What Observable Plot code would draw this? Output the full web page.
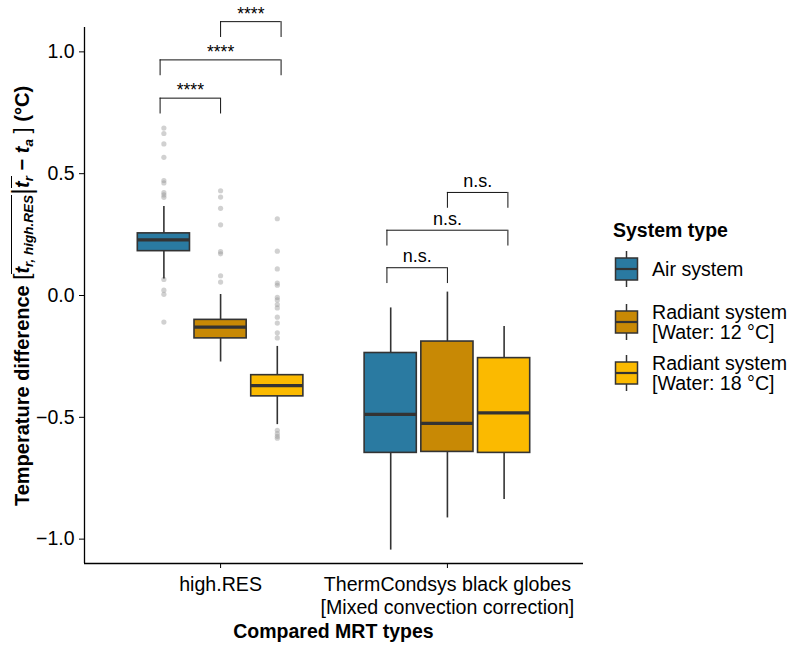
<!DOCTYPE html>
<html>
<head>
<meta charset="utf-8">
<script src="https://cdn.jsdelivr.net/npm/d3@7"></script>
<script src="https://cdn.jsdelivr.net/npm/@observablehq/plot@0.6"></script>
<style>
  body { margin: 0; background: #fff; font-family: "Liberation Sans", Arial, Helvetica, sans-serif; }
  #wrap { position: relative; width: 790px; height: 645px; overflow: hidden; background: #fff; }
  #chart { position: absolute; left: 0; top: 0; }
  .abs { position: absolute; white-space: nowrap; color: #000; }
  #xtitle { left: 84px; width: 499px; top: 620px; text-align: center; font-weight: bold; font-size: 19.5px; line-height: 22px; }
  #ytitle { width: 600px; height: 30px; line-height: 30px; left: -278px; top: 281px; transform: rotate(-90deg); text-align: center; font-weight: bold; font-size: 20px; }
  #ytitle i { font-style: italic; }
  #ytitle sub { font-size: 13.5px; vertical-align: -4px; line-height: 0; }
  #ytitle .ol { display: inline-block; border-top: 1.6px solid #000; line-height: 20px; padding-top: 0px; }
  #ytitle .bar { font-weight: normal; font-size: 27px; vertical-align: -2px; }
  #ytitle .br { font-weight: normal; font-size: 22px; }
  #legtitle { left: 613px; top: 218.5px; font-weight: bold; font-size: 19.5px; line-height: 22px; }
  .legrow { position: absolute; left: 614px; height: 40px; display: flex; align-items: center; }
  .legtext { margin-left: 13px; font-size: 19.6px; line-height: 20px; white-space: pre; }
</style>
</head>
<body>
<div id="wrap">
  <div id="chart"></div>
  <div id="ytitle" class="abs">Temperature difference <span class="br">[</span><span class="ol"><i>t</i><sub><i>r, high.RES</i></sub></span><span class="bar">|</span><span class="ol"><i>t</i><sub><i>r</i></sub></span> − <i>t</i><sub><i>a</i></sub> <span class="br">]</span> (°C)</div>
  <div id="xtitle" class="abs">Compared MRT types</div>
  <div id="legtitle" class="abs">System type</div>
  <div id="legend"></div>
</div>
<script>
// ---------- data ----------
const categories = ["high.RES", "ThermCondsys black globes\n[Mixed convection correction]"];
const systems = ["Air system", "Radiant system\n[Water: 12 °C]", "Radiant system\n[Water: 18 °C]"];
const colors = ["#2A7AA1", "#C88905", "#FBBA00"];
const yTicks = [-1.0, -0.5, 0.0, 0.5, 1.0];

// one entry per box (category index, system index)
const boxCategory = [0, 0, 0, 1, 1, 1];
const boxSystem   = [0, 1, 2, 0, 1, 2];
const whiskerLow  = [0.068, -0.273, -0.530, -1.045, -0.913, -0.837];
const quartile1   = [0.182, -0.176, -0.414, -0.646, -0.642, -0.646];
const medianVal   = [0.228, -0.130, -0.370, -0.488, -0.525, -0.482];
const quartile3   = [0.255, -0.100, -0.327, -0.236, -0.189, -0.257];
const whiskerHigh = [0.365,  0.004, -0.209, -0.051,  0.014, -0.127];

// outliers (only high.RES boxes have them)
const outliersAirHighRES = [0.687, 0.665, 0.622, 0.567, 0.472, 0.462, 0.422, 0.413, 0.403, 0.066, 0.022, 0.005, -0.109];
const outliersR12HighRES = [0.430, 0.404, 0.358, 0.290, 0.180, 0.171, 0.081, 0.055];
const outliersR18HighRES = [0.315, 0.182, 0.109, 0.051, 0.042, -0.008, -0.018, -0.037, -0.051, -0.089, -0.113, -0.153, -0.174, -0.553, -0.567, -0.578, -0.586];

// pairwise comparisons
const compCategory = [0, 0, 0, 1, 1, 1];
const compFrom     = [0, 0, 1, 0, 0, 1];
const compTo       = [1, 2, 2, 1, 2, 2];
const compY        = [0.810, 0.967, 1.124, 0.114, 0.268, 0.423];
const compLabel    = ["****", "****", "****", "n.s.", "n.s.", "n.s."];

// ---------- layout helpers ----------
const dodge = 0.25, boxHalf = 0.115, bracketDodge = 0.2667, tipLength = 0.065;
const xPos = (cat, sys) => cat + 1 + (sys - 1) * dodge;
const bPos = (cat, sys) => cat + 1 + (sys - 1) * bracketDodge;

const boxes = boxCategory.map((c, i) => ({
  cat: c, sys: boxSystem[i], lo: whiskerLow[i], q1: quartile1[i],
  med: medianVal[i], q3: quartile3[i], hi: whiskerHigh[i]
}));
const outliers = [
  ...outliersAirHighRES.map(v => ({cat: 0, sys: 0, v})),
  ...outliersR12HighRES.map(v => ({cat: 0, sys: 1, v})),
  ...outliersR18HighRES.map(v => ({cat: 0, sys: 2, v}))
];
const comps = compCategory.map((c, i) => ({
  cat: c, from: compFrom[i], to: compTo[i], y: compY[i], label: compLabel[i]
}));
const tips = comps.flatMap(c => [
  {x: bPos(c.cat, c.from), y: c.y},
  {x: bPos(c.cat, c.to), y: c.y}
]);

const chart = Plot.plot({
  width: 790, height: 645,
  marginLeft: 84, marginRight: 207, marginTop: 27, marginBottom: 82,
  style: {fontFamily: "Liberation Sans, Arial, sans-serif", fontSize: "19.5px", color: "#000", background: "transparent", overflow: "visible"},
  x: {domain: [0.4, 2.6]},
  y: {domain: [-1.1, 1.1]},
  color: {domain: systems, range: colors},
  marks: [
    Plot.dot(outliers, {x: d => xPos(d.cat, d.sys), y: "v", r: 2.6, fill: "#9a9a9a", fillOpacity: 0.45, stroke: "none"}),
    Plot.ruleX(boxes, {x: d => xPos(d.cat, d.sys), y1: "lo", y2: "hi", stroke: "#333", strokeWidth: 1.6}),
    Plot.rect(boxes, {
      x1: d => xPos(d.cat, d.sys) - boxHalf, x2: d => xPos(d.cat, d.sys) + boxHalf,
      y1: "q1", y2: "q3", fill: d => systems[d.sys], stroke: "#333", strokeWidth: 1.6
    }),
    Plot.ruleY(boxes, {y: "med", x1: d => xPos(d.cat, d.sys) - boxHalf, x2: d => xPos(d.cat, d.sys) + boxHalf, stroke: "#333", strokeWidth: 3.2}),
    Plot.ruleY(comps, {y: "y", x1: d => bPos(d.cat, d.from), x2: d => bPos(d.cat, d.to), stroke: "#111", strokeWidth: 1}),
    Plot.ruleX(tips, {x: "x", y1: d => d.y - tipLength, y2: "y", stroke: "#111", strokeWidth: 1}),
    Plot.text(comps.filter(d => d.label.startsWith("*")), {
      x: d => (bPos(d.cat, d.from) + bPos(d.cat, d.to)) / 2, y: "y", text: "label",
      lineAnchor: "bottom", dy: -2, fontSize: 17.5
    }),
    Plot.text(comps.filter(d => !d.label.startsWith("*")), {
      x: d => (bPos(d.cat, d.from) + bPos(d.cat, d.to)) / 2, y: "y", text: "label",
      lineAnchor: "bottom", dy: -5.5, fontSize: 18
    }),
    Plot.ruleX([0.4], {stroke: "#000", strokeWidth: 1.3}),
    Plot.ruleY([-1.1], {stroke: "#000", strokeWidth: 1.3}),
    Plot.axisY({ticks: yTicks, tickSize: 5, tickPadding: 5, tickFormat: d3.format(".1f"), label: null, fontSize: 19.5}),
    Plot.axisX({ticks: [1, 2], tickSize: 5, tickPadding: 6, tickFormat: d => categories[d - 1], label: null, fontSize: 19.6, lineHeight: 1.17})
  ]
});
document.getElementById("chart").appendChild(chart);

// ---------- legend (HTML) ----------
const legendCenters = [268.5, 322, 373];
const legend = document.getElementById("legend");
systems.forEach((s, i) => {
  const row = document.createElement("div");
  row.className = "legrow";
  row.style.top = (legendCenters[i] - 20) + "px";
  row.innerHTML =
    `<svg width="25" height="36" viewBox="0 0 25 36">
       <line x1="12.5" x2="12.5" y1="0" y2="36" stroke="#333" stroke-width="1.5"/>
       <rect x="1.5" y="7" width="22" height="22" fill="${colors[i]}" stroke="#333" stroke-width="1.5"/>
       <line x1="1.5" x2="23.5" y1="18" y2="18" stroke="#333" stroke-width="2.2"/>
     </svg><div class="legtext"></div>`;
  row.querySelector(".legtext").textContent = s;
  legend.appendChild(row);
});
</script>
</body>
</html>
